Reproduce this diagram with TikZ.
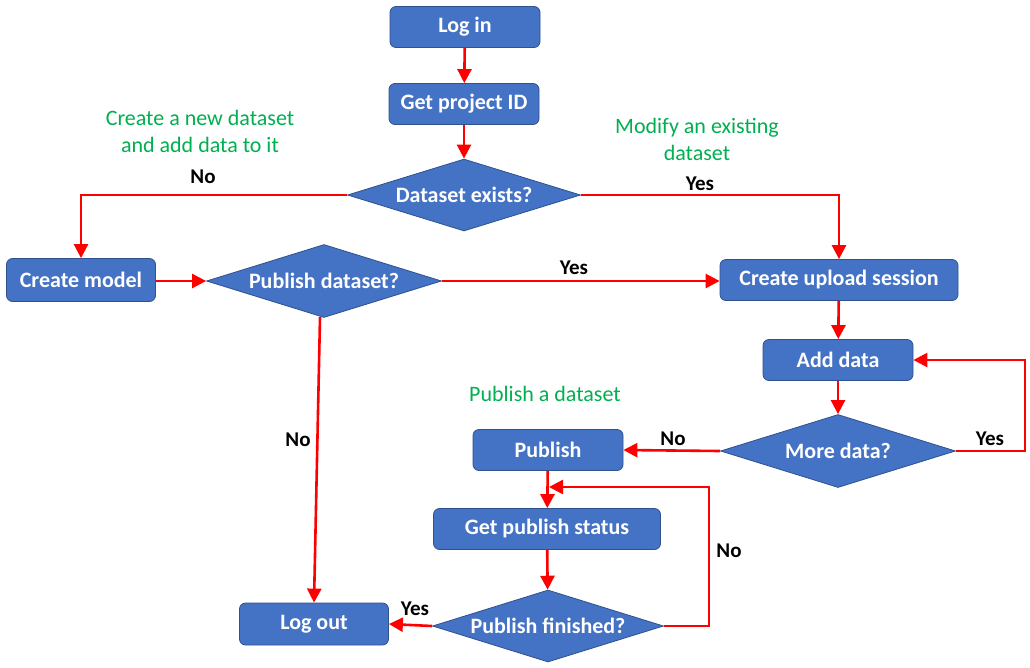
\documentclass[tikz,border=0pt]{standalone}
\usepackage{fontspec}
\setmainfont{Carlito}
\usetikzlibrary{shapes.geometric,arrows.meta}
\definecolor{boxblue}{HTML}{4472C4}
\definecolor{boxedge}{HTML}{2F528F}
\definecolor{notegreen}{HTML}{00B050}
\definecolor{flowred}{HTML}{FF0000}
\begin{document}
\begin{tikzpicture}[x=1pt,y=-1pt,
  procbox/.style={draw=boxedge,line width=0.8pt,fill=boxblue,rounded corners=6pt,
    text=white,font=\fontsize{22}{26}\selectfont\bfseries,inner sep=0pt,
    minimum width=150pt,minimum height=41pt},
  decbox/.style={diamond,draw=boxedge,line width=0.8pt,fill=boxblue,aspect=3.2,
    text=white,font=\fontsize{22}{26}\selectfont\bfseries,inner sep=0pt,
    minimum width=233pt,minimum height=72pt},
  flow/.style={draw=flowred,line width=2.6pt,-{Triangle[length=14pt,width=14pt]}},
  lab/.style={font=\fontsize{21}{25}\selectfont\bfseries,text=black,inner sep=0pt},
  note/.style={font=\fontsize{22}{27}\selectfont,text=notegreen,align=center,inner sep=0pt}]
\useasboundingbox (0,0) rectangle (1030,667);
\fill[white] (0,0) rectangle (1030,667);

\node[procbox] (login) at (465,27) {Log in};
\node[procbox] (getid) at (464,104) {Get project ID};
\node[decbox] (dsexists) at (464,195) {Dataset exists?};
\node[procbox,minimum width=149pt,minimum height=43pt] (model) at (81,280) {Create model};
\node[decbox,minimum width=235pt,minimum height=73pt] (pubds) at (324,281) {Publish dataset?};
\node[procbox,minimum width=238pt] (upload) at (839,280) {Create upload session};
\node[procbox] (adddata) at (838,360) {Add data};
\node[decbox,minimum width=235pt,minimum height=73pt] (moredata) at (838,451) {More data?};
\node[procbox] (publish) at (548,450) {Publish};
\node[procbox,minimum width=227pt] (status) at (547,529) {Get publish status};
\node[decbox,minimum width=231pt,minimum height=72pt] (pubfin) at (548,626) {Publish finished?};
\node[procbox,minimum width=149pt,minimum height=42pt] (logout) at (314,624) {Log out};

\node[note] (noteA) at (200,131) {Create a new dataset\\and add data to it};
\node[note] (noteB) at (697,139) {Modify an existing\\dataset};
\node[note] (noteC) at (545,394) {Publish a dataset};

\coordinate (join) at (549,487);
\coordinate (pdfoot) at (320,317);

\draw[flow] (login) -- (getid);
\draw[flow] (getid) -- (dsexists);
\draw[flow] (dsexists.west) -| (model.north);
\draw[flow] (dsexists.east) -| (upload.north);
\draw[flow] (model.east |- pubds) -- (pubds.west);
\draw[flow] (pubds.east) -- (upload.west |- pubds);
\draw[flow] (pdfoot) -- (logout.north);
\draw[flow] (upload) -- (adddata);
\draw[flow] (adddata) -- (moredata);
\draw[flow] (moredata.east) -- ++(69,0) |- (adddata.east);
\draw[flow] (moredata.west) -- (publish.east);
\draw[flow] (publish) -- (status);
\draw[flow] (status) -- (pubfin);
\draw[flow] (pubfin.east) -- ++(45,0) |- (join);
\draw[flow] (pubfin.west) -- (logout.east);

\node[lab] (lNo1) at (203,177) {No};
\node[lab] (lYes1) at (700,184) {Yes};
\node[lab] (lYes2) at (574,268) {Yes};
\node[lab] (lNo2) at (298,440) {No};
\node[lab] (lYes3) at (990,439) {Yes};
\node[lab] (lNo3) at (673,439) {No};
\node[lab] (lNo4) at (729,551) {No};
\node[lab] (lYes4) at (415,609) {Yes};
\end{tikzpicture}
\end{document}
